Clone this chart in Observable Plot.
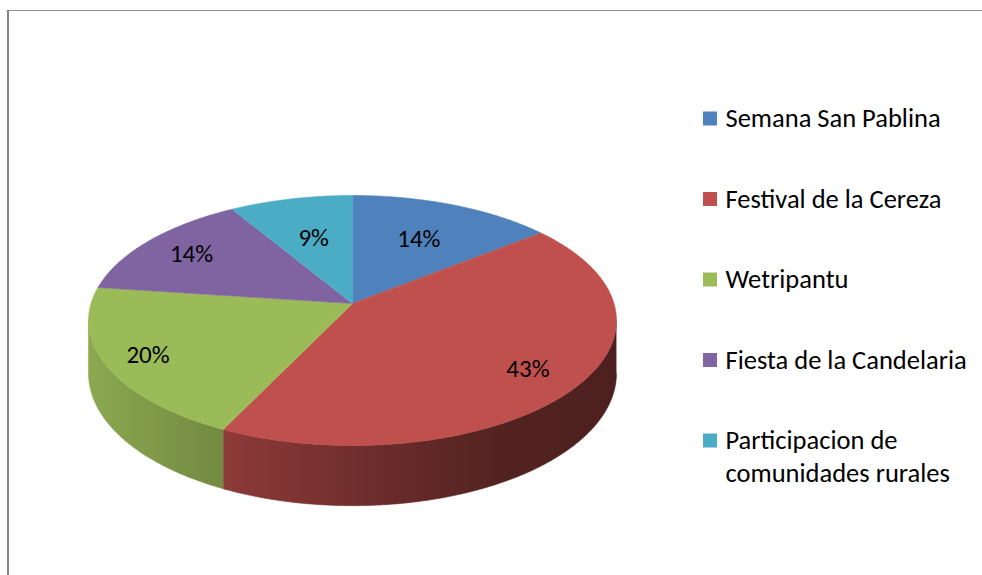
<!DOCTYPE html>
<html><head><meta charset="utf-8">
<script src="https://cdn.jsdelivr.net/npm/d3@7"></script>
<script src="https://cdn.jsdelivr.net/npm/@observablehq/plot@0.6"></script>
<style>html,body{margin:0;padding:0;background:#fff;overflow:hidden}</style>
</head><body><div id="chart"></div>
<script>
// ---- data ----
const categories = ["Semana San Pablina", "Festival de la Cereza", "Wetripantu", "Fiesta de la Candelaria", "Participacion de comunidades rurales"];
const shares = [14.3, 42.9, 20.0, 14.3, 8.6];
const legendLines = [["Semana San Pablina"], ["Festival de la Cereza"], ["Wetripantu"], ["Fiesta de la Candelaria"], ["Participacion de", "comunidades rurales"]];
const colors = ["#4f81bd", "#c0504d", "#9bbb59", "#8064a2", "#4bacc6"];

// ---- layout ----
const W = 982, H = 575;
const FONT = "Calibri, Carlito, Lato, sans-serif";
const pie = {cx: 352, cy: 303, A: 261.5, B: 122.7, k: 0.136, T: 52};
const labelRadius = [0.63, 0.8, 0.84, 0.78, 0.6];
const legend = {x: 703, size: 14, textX: 725, y0: 118.5, step: 80.5, lineStep: 33};
const frameBox = {left: 7.5, top: 10};

function proj(theta, r, h) {
  const u = r * Math.sin(theta), v = r * Math.cos(theta);
  const w = 1 + pie.k * v;
  return [pie.cx + pie.A * u / w, pie.cy + (-pie.B * v + pie.T * h) / w];
}
function arc(a, b, r, h) {
  const n = Math.max(2, Math.ceil(Math.abs(b - a) / (Math.PI / 360)));
  const pts = [];
  for (let j = 0; j <= n; j++) pts.push(proj(a + (b - a) * j / n, r, h));
  return pts;
}

const total = d3.sum(shares);
const cum = [0];
shares.forEach((s, i) => cum.push(cum[i] + s / total));
const thetaL = Math.acos(-pie.k), thetaR = 2 * Math.PI - thetaL;

const sideRows = [], topRows = [], labelRows = [];
shares.forEach((s, i) => {
  const start = cum[i] * 2 * Math.PI, end = cum[i + 1] * 2 * Math.PI;
  const a = Math.max(start, thetaL), b = Math.min(end, thetaR);
  if (a < b) {
    const pts = arc(a, b, 1, 0).concat(arc(b, a, 1, 1));
    pts.forEach(([x, y]) => sideRows.push({id: "s" + i, x, y, fill: `url(#side-${i})`}));
  }
  const tp = [proj(0, 0, 0)].concat(arc(start, end, 1, 0));
  tp.forEach(([x, y]) => topRows.push({id: "t" + i, x, y, fill: colors[i]}));
  const [lx, ly] = proj((start + end) / 2, labelRadius[i], 0);
  labelRows.push({x: lx, y: ly, text: Math.round(s) + "%"});
});

const legendRects = categories.map((c, i) => {
  const cy = legend.y0 + i * legend.step;
  return {x1: legend.x, x2: legend.x + legend.size, y1: cy - legend.size / 2, y2: cy + legend.size / 2, fill: colors[i]};
});
const legendText = [];
legendLines.forEach((lines, i) => lines.forEach((t, j) => legendText.push({x: legend.textX, y: legend.y0 + i * legend.step + j * legend.lineStep, text: t})));

const chart = Plot.plot({
  width: W, height: H,
  margin: 0,
  x: {domain: [0, W], range: [0, W], axis: null},
  y: {domain: [0, H], range: [0, H], axis: null},
  color: {type: "identity"},
  style: {background: "#fff", fontFamily: FONT},
  marks: [
    Plot.ruleX([frameBox.left], {y1: frameBox.top, y2: H, stroke: "#868686", strokeWidth: 2}),
    Plot.ruleY([frameBox.top], {x1: frameBox.left - 1, x2: W, stroke: "#8e8e8e", strokeWidth: 1}),
    Plot.line(sideRows, {x: "x", y: "y", z: "id", fill: "fill", stroke: "fill", strokeWidth: 0.6, curve: "linear"}),
    Plot.line(topRows, {x: "x", y: "y", z: "id", fill: "fill", stroke: "fill", strokeWidth: 0.6, curve: "linear"}),
    Plot.text(labelRows, {x: "x", y: "y", text: "text", fontSize: 25, fill: "#000", fontFamily: FONT}),
    Plot.rect(legendRects, {x1: "x1", x2: "x2", y1: "y1", y2: "y2", fill: "fill"}),
    Plot.text(legendText, {x: "x", y: "y", text: "text", textAnchor: "start", fontSize: 26.5, fill: "#000", fontFamily: FONT})
  ]
});

// gradients for the pie side walls
const ns = "http://www.w3.org/2000/svg";
const defs = document.createElementNS(ns, "defs");
const stops = [[0, 0.9], [0.26, 0.73], [0.6, 0.53], [0.8, 0.42], [1, 0.40]];
colors.forEach((c, i) => {
  const g = document.createElementNS(ns, "linearGradient");
  g.setAttribute("id", "side-" + i);
  g.setAttribute("gradientUnits", "userSpaceOnUse");
  g.setAttribute("x1", pie.cx - pie.A * 1.01); g.setAttribute("x2", pie.cx + pie.A * 1.01);
  g.setAttribute("y1", 0); g.setAttribute("y2", 0);
  const rgb = d3.rgb(c);
  stops.forEach(([o, f]) => {
    const st = document.createElementNS(ns, "stop");
    st.setAttribute("offset", o);
    st.setAttribute("stop-color", d3.rgb(rgb.r * f, rgb.g * f, rgb.b * f).formatHex());
    g.appendChild(st);
  });
  defs.appendChild(g);
});
chart.insertBefore(defs, chart.firstChild);
document.getElementById("chart").appendChild(chart);
</script>
</body></html>
